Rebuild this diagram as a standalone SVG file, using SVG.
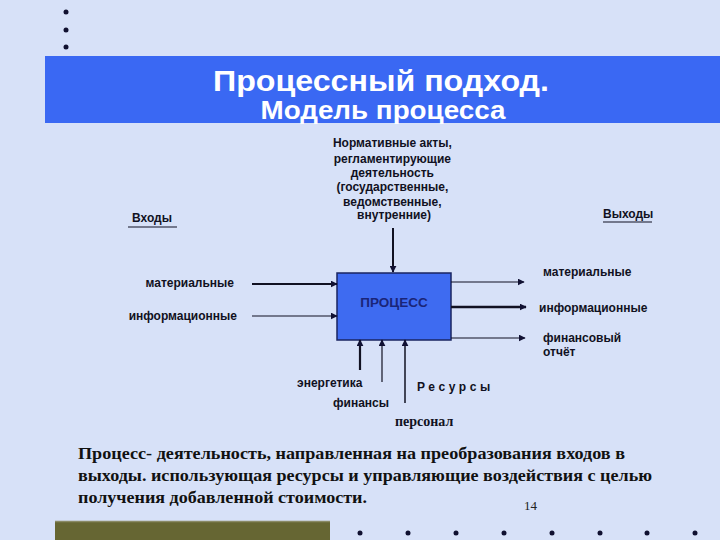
<svg xmlns="http://www.w3.org/2000/svg" width="720" height="540" viewBox="0 0 720 540">
<style>
.lbl{font-family:"Liberation Sans",Arial,sans-serif;font-weight:bold;font-size:12px;fill:#111122}
.ttl{font-family:"Liberation Sans",Arial,sans-serif;font-weight:bold;fill:#ffffff;text-anchor:middle}
.par{font-family:"Liberation Serif","Times New Roman",serif;font-weight:bold;font-size:17px;fill:#111111}
.ln{stroke:#111122;fill:none}
.dot{fill:#101030}
</style>
<defs>
<marker id="ah" viewBox="0 0 10 10" refX="9" refY="5" markerWidth="7" markerHeight="7" markerUnits="userSpaceOnUse" orient="auto">
<path d="M0,0 L10,5 L0,10 z" fill="#111133"/>
</marker>
</defs>
<rect x="0" y="0" width="720" height="540" fill="#d7e1f8"/>
<g id="bullets-top">
<circle class="dot" cx="66" cy="12" r="2.5"/>
<circle class="dot" cx="66" cy="30" r="2.5"/>
<circle class="dot" cx="66" cy="47" r="2.5"/>
</g>
<g id="title">
<rect x="45" y="56" width="675" height="67" fill="#3a68f3"/>
<text class="ttl" x="381" y="91" font-size="30" textLength="336" lengthAdjust="spacingAndGlyphs">Процессный подход.</text>
<text class="ttl" x="383" y="119" font-size="26" textLength="245" lengthAdjust="spacingAndGlyphs">Модель процесса</text>
</g>
<g id="controls">
<text class="lbl" text-anchor="middle" font-size="11.8">
<tspan x="394" y="147">Нормативные акты,</tspan>
<tspan x="394" y="163">регламентирующие</tspan>
<tspan x="394" y="177">деятельность</tspan>
<tspan x="394" y="191">(государственные,</tspan>
<tspan x="394" y="206">ведомственные,</tspan>
<tspan x="394" y="219">внутренние)</tspan>
</text>
</g>
<g id="inputs-title">
<text class="lbl" x="132" y="222" font-size="12.5">Входы</text>
<line class="ln" x1="128" y1="227" x2="177" y2="227" stroke-width="1.2"/>
</g>
<g id="outputs-title">
<text class="lbl" x="603" y="218" font-size="12.3">Выходы</text>
<line class="ln" x1="603" y1="222" x2="652" y2="222" stroke-width="1.2"/>
</g>
<g id="process">
<rect x="337" y="273" width="114" height="67" fill="#3e6bf1" stroke="#1a2560" stroke-width="1.5"/>
<text x="394" y="307" text-anchor="middle" font-family="'Liberation Sans',Arial,sans-serif" font-weight="bold" font-size="13.5" fill="#1a2578">ПРОЦЕСС</text>
</g>
<g id="input-labels">
<text class="lbl" x="234" y="287" text-anchor="end">материальные</text>
<text class="lbl" x="237" y="320" text-anchor="end">информационные</text>
</g>
<g id="output-labels">
<text class="lbl" x="543" y="276">материальные</text>
<text class="lbl" x="539" y="312">информационные</text>
<text class="lbl" x="543" y="342">финансовый</text>
<text class="lbl" x="543" y="356">отчёт</text>
</g>
<g id="resource-labels">
<text class="lbl" x="297" y="387">энергетика</text>
<text class="lbl" x="417" y="391" letter-spacing="3.6" font-size="11.5">Ресурсы</text>
<text class="lbl" x="333" y="407" font-size="12.4">финансы</text>
<text x="395" y="426" font-family="'Liberation Serif','Times New Roman',serif" font-weight="bold" font-size="14" fill="#111122">персонал</text>
</g>
<g id="connectors">
<line class="ln" x1="393" y1="228" x2="393" y2="272" stroke-width="2" marker-end="url(#ah)"/>
<line class="ln" x1="252" y1="284" x2="337" y2="284" stroke-width="2" marker-end="url(#ah)"/>
<line class="ln" x1="252" y1="316" x2="337" y2="316" stroke-width="1.2" marker-end="url(#ah)"/>
<line class="ln" x1="451" y1="282" x2="524" y2="282" stroke-width="1.2" marker-end="url(#ah)"/>
<line class="ln" x1="451" y1="307" x2="526" y2="307" stroke-width="2.5" marker-end="url(#ah)"/>
<line class="ln" x1="451" y1="338" x2="525" y2="338" stroke-width="1.2" marker-end="url(#ah)"/>
<line class="ln" x1="360" y1="370" x2="360" y2="340" stroke-width="2.2" marker-end="url(#ah)"/>
<line class="ln" x1="382" y1="382" x2="382" y2="340" stroke-width="1.2" marker-end="url(#ah)"/>
<line class="ln" x1="405" y1="403" x2="405" y2="340" stroke-width="1.5" marker-end="url(#ah)"/>
</g>
<g id="definition">
<text class="par" x="78" y="459" textLength="547" lengthAdjust="spacingAndGlyphs">Процесс- деятельность, направленная на преобразования входов в</text>
<text class="par" x="78" y="481" textLength="574" lengthAdjust="spacingAndGlyphs">выходы. использующая ресурсы и управляющие воздействия с целью</text>
<text class="par" x="78" y="503" textLength="289" lengthAdjust="spacingAndGlyphs">получения добавленной стоимости.</text>
<text x="524" y="510" font-family="'Liberation Serif','Times New Roman',serif" font-size="13" fill="#222222">14</text>
</g>
<g id="footer">
<rect x="55" y="521" width="275" height="19" fill="#666633"/>
<line x1="55" y1="521.5" x2="330" y2="521.5" stroke="#8a8a66" stroke-width="1.5"/>
<circle class="dot" cx="360" cy="533" r="2.5"/>
<circle class="dot" cx="408" cy="533" r="2.5"/>
<circle class="dot" cx="456" cy="533" r="2.5"/>
<circle class="dot" cx="504" cy="533" r="2.5"/>
<circle class="dot" cx="552" cy="533" r="2.5"/>
<circle class="dot" cx="600" cy="533" r="2.5"/>
<circle class="dot" cx="647" cy="533" r="2.5"/>
<circle class="dot" cx="695" cy="533" r="2.5"/>
</g>
</svg>
